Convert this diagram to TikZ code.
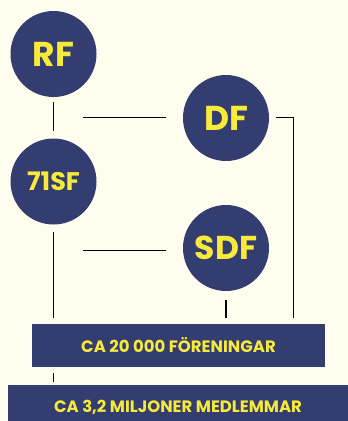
\documentclass[tikz,border=0pt]{standalone}
\usepackage{fontspec}
\setmainfont{Poppins}
\definecolor{bg}{HTML}{FFFDEE}
\definecolor{navy}{HTML}{333D6F}
\definecolor{yel}{HTML}{F7EA3A}
\begin{document}
\begin{tikzpicture}[x=1pt,y=-1pt,
  org/.style={circle,fill=navy,minimum size=86pt,inner sep=0pt,text=yel,font=\bfseries\fontsize{34.5}{34.5}\selectfont},
  bar/.style={fill=navy,inner sep=0pt,text=yel,font=\bfseries\fontsize{16.5}{16.5}\selectfont},
  link/.style={draw=black,line width=1.3pt}]
\fill[bg] (0,0) rectangle (348,421);
\useasboundingbox (0,0) rectangle (348,421);
\node[org] (RF) at (53.5,54) {RF};
\node[org,font=\bfseries\fontsize{25.5}{25.5}\selectfont] (SF) at (53.5,181.5) {71SF};
\node[org] (DF) at (226,118) {DF};
\node[org,font=\bfseries\fontsize{33}{33}\selectfont] (SDF) at (226,248) {SDF};
\node[bar,minimum width=293pt,minimum height=43pt] (FOR) at (178.5,345.5) {CA 20 000 FÖRENINGAR};
\node[bar,minimum width=341pt,minimum height=40pt,anchor=north west] (MED) at (7.5,385) {};
\node[text=yel,font=\bfseries\fontsize{16.5}{16.5}\selectfont] (MEDT) at (178,407.5) {CA 3,2 MILJONER MEDLEMMAR};
\coordinate (h1a) at (83,117.5);
\coordinate (h1b) at (166,117.5);
\coordinate (h2a) at (83,250.5);
\coordinate (h2b) at (166,250.5);
\coordinate (dfr) at (276,117.5);
\coordinate (dfc) at (293.7,117.5);
\coordinate (dfe) at (293.7,318);
\draw[link] ([yshift=-5pt]RF.south) -- ([yshift=7pt]SF.north);
\draw[link] (h1a) -- (h1b);
\draw[link] (h2a) -- (h2b);
\draw[link] (dfr) -- (dfc) -- (dfe);
\draw[link] ([yshift=-7.5pt]SF.south) -- (SF.center |- 0,318);
\draw[link] ([yshift=-9pt]SDF.south) -- (SDF.center |- 0,318);
\draw[link] (SF.center |- 0,373) -- (SF.center |- 0,382);
\end{tikzpicture}
\end{document}
